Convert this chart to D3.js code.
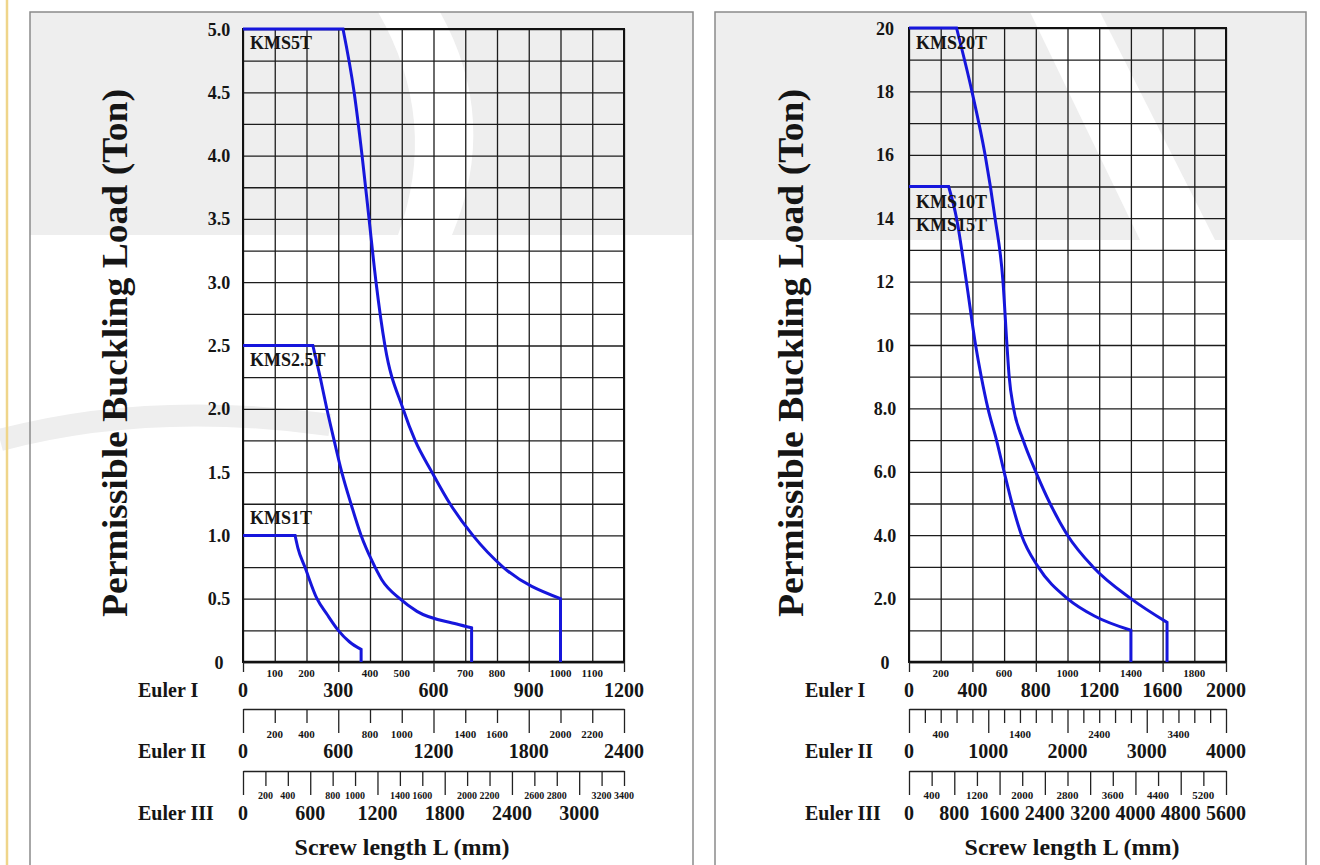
<!DOCTYPE html>
<html><head><meta charset="utf-8">
<script src="https://cdn.jsdelivr.net/npm/d3@7"></script>
<style>
body{margin:0;background:#fff;}
svg text{font-family:"Liberation Serif","Times New Roman",serif;font-weight:bold;fill:#151515;}
</style></head><body>
<svg id="c" width="1320" height="865"></svg>
<script>
// ================= DATA =================
// Left chart (KMS1T / KMS2.5T / KMS5T) — load in tons, length in mm (Euler I)
const leftLoadTicks  = [0, 0.5, 1.0, 1.5, 2.0, 2.5, 3.0, 3.5, 4.0, 4.5, 5.0];
const leftLoadLabels = ["0","0.5","1.0","1.5","2.0","2.5","3.0","3.5","4.0","4.5","5.0"];
const leftEuler1Major = [0, 300, 600, 900, 1200];
const leftEuler1Minor = [100, 200, 400, 500, 700, 800, 1000, 1100];
const leftEuler2Major = [0, 600, 1200, 1800, 2400];
const leftEuler2Minor = [200, 400, 800, 1000, 1400, 1600, 2000, 2200];
const leftEuler3Major = [0, 600, 1200, 1800, 2400, 3000];
const leftEuler3Minor = [200, 400, 800, 1000, 1400, 1600, 2000, 2200, 2600, 2800, 3200, 3400];

const kms5tLength = [0, 315, 350, 375, 397, 419, 447, 504, 542, 595, 652, 724, 819, 1000, 1000];
const kms5tLoad   = [5.0, 5.0, 4.5, 4.0, 3.5, 3.0, 2.5, 2.0, 1.75, 1.5, 1.25, 1.0, 0.75, 0.5, 0];
const kms25tLength = [0, 220, 243, 264, 287, 311, 340, 372, 406, 437, 494, 548, 673, 720, 720];
const kms25tLoad   = [2.5, 2.5, 2.25, 2.0, 1.75, 1.5, 1.25, 1.0, 0.8, 0.65, 0.5, 0.4, 0.3, 0.27, 0];
const kms1tLength = [0, 164, 173, 195, 233, 265, 300, 335, 372, 372];
const kms1tLoad   = [1.0, 1.0, 0.9, 0.75, 0.5, 0.375, 0.25, 0.16, 0.1, 0];

// Right chart (KMS10T / KMS15T / KMS20T)
const rightLoadTicks  = [0, 2, 4, 6, 8, 10, 12, 14, 16, 18, 20];
const rightLoadLabels = ["0","2.0","4.0","6.0","8.0","10","12","14","16","18","20"];
const rightEuler1Major = [0, 400, 800, 1200, 1600, 2000];
const rightEuler1Minor = [200, 600, 1000, 1400, 1800];
const rightEuler2Major = [0, 1000, 2000, 3000, 4000];
const rightEuler2Minor = [400, 1400, 2400, 3400];
const rightEuler3Major = [0, 800, 1600, 2400, 3200, 4000, 4800, 5600];
const rightEuler3Minor = [400, 1200, 2000, 2800, 3600, 4400, 5200];

const kms20tLength = [0, 300, 397, 480, 543, 593, 618, 632, 660, 720, 800, 890, 1000, 1161, 1400, 1628, 1628];
const kms20tLoad   = [20, 20, 18, 16, 14, 12, 10, 9, 8, 7, 6, 5, 4, 3, 2, 1.25, 0];
const kms15tLength = [0, 250, 300, 362, 420, 456, 498, 552, 600, 650, 710, 815, 1000, 1170, 1400, 1400];
const kms15tLoad   = [15, 15, 14, 12, 10, 9, 8, 7, 6, 5, 4, 3.0, 2, 1.45, 1, 0];

// ================= DRAW =================
const svg = d3.select("#c");
const GRID = "#1c1c1c", BLUE = "#1616dc", WM = "#eeeeee";

// background watermark (faint)
const wm = svg.append("g");
wm.append("rect").attr("x",30).attr("y",12).attr("width",663).attr("height",223).attr("fill",WM);
wm.append("path").attr("d","M 378 12 L 440 12 Q 500 120 452 235 L 398 235 Q 440 120 378 12 Z").attr("fill","#fff");
wm.append("rect").attr("x",715).attr("y",12).attr("width",591).attr("height",228).attr("fill",WM);
wm.append("path").attr("d","M 1030 12 L 1100 12 L 1215 240 L 1140 240 Z").attr("fill","#fff");
wm.append("path").attr("d","M 0 440 Q 150 400 330 425").attr("stroke",WM).attr("stroke-width",22).attr("fill","none");

// side ornament + panel borders
svg.append("line").attr("x1",7).attr("x2",7).attr("y1",0).attr("y2",865).attr("stroke","#efd58a").attr("stroke-width",2.5);
svg.append("rect").attr("x",30).attr("y",12).attr("width",663).attr("height",880).attr("fill","none").attr("stroke","#8a8a8a").attr("stroke-width",1.5);
svg.append("rect").attr("x",715).attr("y",12).attr("width",591).attr("height",880).attr("fill","none").attr("stroke","#8a8a8a").attr("stroke-width",1.5);

function zip(xs, ys){ return xs.map((x,i)=>[x, ys[i]]); }

const panels = [
  {left:243, right:624, top:29, bottom:662, e1:1200, e2:2400, e3:3400, ymax:5, yStep:0.25, xStep:100,
   loadTicks:leftLoadTicks, loadLabels:leftLoadLabels, yLabelX:219,
   e1Major:leftEuler1Major, e1Minor:leftEuler1Minor, e2Major:leftEuler2Major, e2Minor:leftEuler2Minor,
   e3Major:leftEuler3Major, e3Minor:leftEuler3Minor, e2Step:200, e3Step:200,
   e3MinorSize:10, eulerX:138, titleX:127, bottomTitleX:402,
   curves:[zip(kms5tLength,kms5tLoad), zip(kms25tLength,kms25tLoad), zip(kms1tLength,kms1tLoad)],
   labels:[["KMS5T",0,5.0,20],["KMS2.5T",0,2.5,20],["KMS1T",0,1.0,-11]]},
  {left:909, right:1226, top:28, bottom:662, e1:2000, e2:4000, e3:5600, ymax:20, yStep:1, xStep:200,
   loadTicks:rightLoadTicks, loadLabels:rightLoadLabels, yLabelX:885,
   e1Major:rightEuler1Major, e1Minor:rightEuler1Minor, e2Major:rightEuler2Major, e2Minor:rightEuler2Minor,
   e3Major:rightEuler3Major, e3Minor:rightEuler3Minor, e2Step:200, e3Step:400,
   e3MinorSize:11, eulerX:805, titleX:803, bottomTitleX:1072,
   curves:[zip(kms20tLength,kms20tLoad), zip(kms15tLength,kms15tLoad)],
   labels:[["KMS20T",0,20,21],["KMS10T",0,15,21],["KMS15T",0,14,13]]}
];

panels.forEach(p => {
  const g = svg.append("g");
  const x1 = d3.scaleLinear().domain([0,p.e1]).range([p.left,p.right]);
  const x2 = d3.scaleLinear().domain([0,p.e2]).range([p.left,p.right]);
  const x3 = d3.scaleLinear().domain([0,p.e3]).range([p.left,p.right]);
  const y  = d3.scaleLinear().domain([0,p.ymax]).range([p.bottom,p.top]);
  const W = p.right - p.left, H = p.bottom - p.top;

  // grid
  const gy = g.append("g").attr("transform",`translate(${p.left},0)`)
    .call(d3.axisLeft(y).tickValues(d3.range(0, p.ymax + 1e-9, p.yStep)).tickSize(-W).tickFormat(""));
  const gx = g.append("g")
    .call(d3.axisBottom(x1).tickValues(d3.range(0, p.e1 + 1e-9, p.xStep)).tickSize(H).tickFormat(""));
  gx.attr("transform",`translate(0,${p.top})`);
  [gy,gx].forEach(a => { a.select(".domain").remove(); a.selectAll("line").attr("stroke",GRID).attr("stroke-width",1.3); });
  g.append("rect").attr("x",p.left).attr("y",p.top).attr("width",W).attr("height",H)
    .attr("fill","none").attr("stroke","#111").attr("stroke-width",2);
  g.append("line").attr("x1",p.left).attr("x2",p.right).attr("y1",p.bottom).attr("y2",p.bottom)
    .attr("stroke","#111").attr("stroke-width",2.6);

  // y labels
  g.selectAll(".yl").data(p.loadTicks).enter().append("text")
    .attr("x",p.yLabelX).attr("y",d=>y(d)+6.5).attr("text-anchor","middle")
    .style("font-size","18px").text((d,i)=>p.loadLabels[i]);

  // curves: flat plateau, smooth buckling curve, vertical drop at max length
  const lin = d3.line().x(d=>x1(d[0])).y(d=>y(d[1]));
  const smooth = d3.line().x(d=>x1(d[0])).y(d=>y(d[1])).curve(d3.curveMonotoneX);
  p.curves.forEach(c => {
    const n = c.length;
    const d = lin(c.slice(0,2)) + smooth(c.slice(1,n-1)).replace(/^M/,"L") + lin(c.slice(n-2)).replace(/^M[^L]*/,"");
    g.append("path").attr("d",d).attr("fill","none")
      .attr("stroke",BLUE).attr("stroke-width",3).attr("stroke-linejoin","miter");
  });

  // series labels
  p.labels.forEach(l => g.append("text").attr("x",x1(l[1])+7).attr("y",y(l[2])+l[3])
    .style("font-size","18px").text(l[0]));

  // Euler I
  const a1 = g.append("g").attr("transform",`translate(0,${p.bottom})`)
    .call(d3.axisBottom(x1).tickValues(p.e1Major).tickSize(10).tickFormat(""));
  a1.select(".domain").remove();
  a1.selectAll("line").attr("stroke","#222").attr("stroke-width",1.3);
  g.selectAll(".m1").data(p.e1Minor).enter().append("text").attr("x",d=>x1(d)).attr("y",677)
    .attr("text-anchor","middle").style("font-size","11px").text(d=>d);
  g.selectAll(".M1").data(p.e1Major).enter().append("text").attr("x",d=>x1(d)).attr("y",697)
    .attr("text-anchor","middle").style("font-size","20px").text(d=>d);

  // Euler II
  const e2all = d3.range(0, p.e2 + 1e-9, p.e2Step);
  const a2 = g.append("g").attr("transform","translate(0,709)")
    .call(d3.axisBottom(x2).tickValues(e2all.filter(v=>!p.e2Major.includes(v))).tickSize(14).tickSizeOuter(0).tickFormat(""));
  const a2b = g.append("g").attr("transform","translate(0,709)")
    .call(d3.axisBottom(x2).tickValues(p.e2Major).tickSize(24).tickSizeOuter(0).tickFormat(""));
  a2b.select(".domain").remove();
  [a2,a2b].forEach(a=>{ a.selectAll("line").attr("stroke","#222").attr("stroke-width",1.3);
    a.select(".domain").attr("stroke","#222").attr("stroke-width",1.5); });
  g.selectAll(".m2").data(p.e2Minor).enter().append("text").attr("x",d=>x2(d)).attr("y",738)
    .attr("text-anchor","middle").style("font-size","11px").text(d=>d);
  g.selectAll(".M2").data(p.e2Major).enter().append("text").attr("x",d=>x2(d)).attr("y",758)
    .attr("text-anchor","middle").style("font-size","20px").text(d=>d);

  // Euler III
  const e3all = d3.range(0, p.e3 + 1e-9, p.e3Step);
  const a3 = g.append("g").attr("transform","translate(0,771)")
    .call(d3.axisBottom(x3).tickValues(e3all.filter(v=>!p.e3Major.includes(v))).tickSize(15).tickSizeOuter(0).tickFormat(""));
  const a3b = g.append("g").attr("transform","translate(0,771)")
    .call(d3.axisBottom(x3).tickValues(p.e3Major).tickSize(24).tickSizeOuter(0).tickFormat(""));
  a3b.select(".domain").remove();
  [a3,a3b].forEach(a=>{ a.selectAll("line").attr("stroke","#222").attr("stroke-width",1.3);
    a.select(".domain").attr("stroke","#222").attr("stroke-width",1.5); });
  g.selectAll(".m3").data(p.e3Minor).enter().append("text").attr("x",d=>x3(d)).attr("y",799)
    .attr("text-anchor","middle").style("font-size",p.e3MinorSize+"px").text(d=>d);
  g.selectAll(".M3").data(p.e3Major).enter().append("text").attr("x",d=>x3(d)).attr("y",820)
    .attr("text-anchor","middle").style("font-size","20px").text(d=>d);

  // row labels
  [["Euler I",697],["Euler II",758],["Euler III",820]].forEach(r =>
    g.append("text").attr("x",p.eulerX).attr("y",r[1]).style("font-size","20px").text(r[0]));

  // titles
  g.append("text").attr("transform",`translate(${p.titleX},353) rotate(-90)`).attr("text-anchor","middle")
    .attr("textLength",528).attr("lengthAdjust","spacingAndGlyphs").style("font-size","35px")
    .text("Permissible Buckling Load (Ton)");
  g.append("text").attr("x",p.bottomTitleX).attr("y",855).attr("text-anchor","middle")
    .style("font-size","24px").text("Screw length L (mm)");
});
</script>
</body></html>
